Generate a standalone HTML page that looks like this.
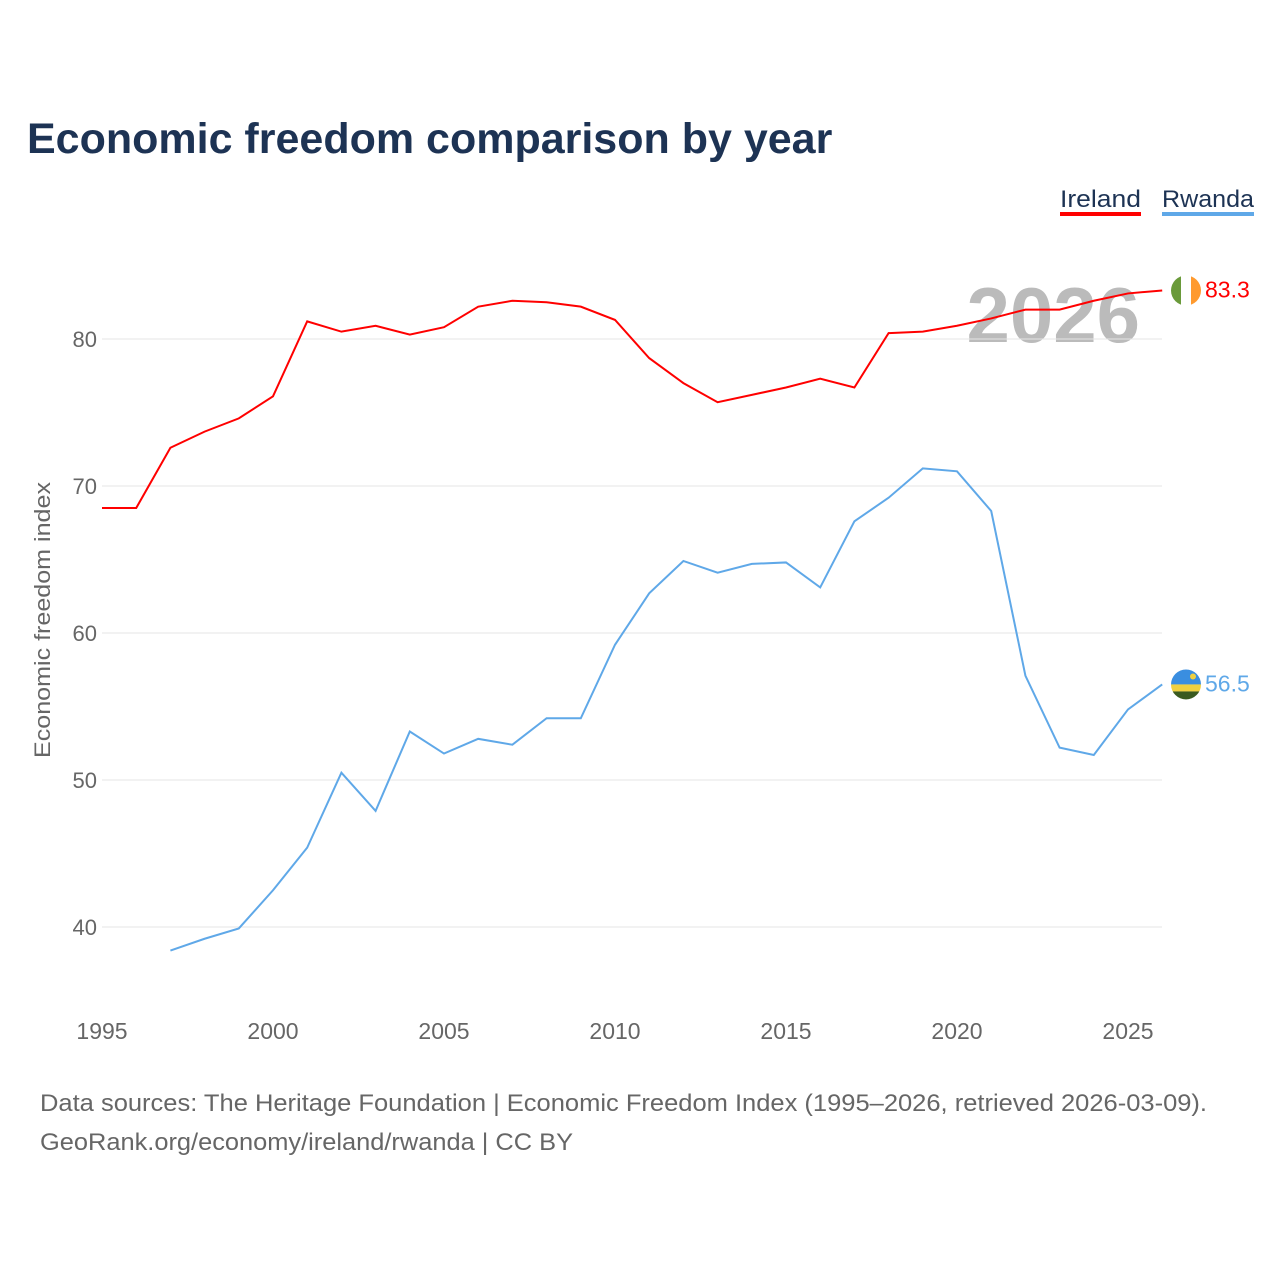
<!DOCTYPE html>
<html><head><meta charset="utf-8"><style>
body{margin:0;background:#fff;font-family:"Liberation Sans",sans-serif}
svg text{font-family:"Liberation Sans",sans-serif}
</style></head><body>
<svg width="1280" height="1280" id="c">
<text x="27" y="153" font-size="43" font-weight="bold" fill="#1d3354">Economic freedom comparison by year</text>
<g><text x="1060" y="207" font-size="24" fill="#1d3354" textLength="81" lengthAdjust="spacingAndGlyphs">Ireland</text><rect x="1060" y="212" width="81" height="4" fill="#ff0000"/></g>
<g><text x="1162" y="207" font-size="24" fill="#1d3354" textLength="92" lengthAdjust="spacingAndGlyphs">Rwanda</text><rect x="1162" y="212" width="92" height="4" fill="#5fa8e8"/></g>
<text x="1140" y="342" font-size="78" font-weight="bold" fill="#bbb" text-anchor="end">2026</text>
<text transform="translate(50,620) rotate(-90)" font-size="22" fill="#666" text-anchor="middle" textLength="276" lengthAdjust="spacingAndGlyphs">Economic freedom index</text>
<g id="grid"></g><g id="lines"></g>
<text x="40" y="1111" font-size="24" fill="#666" textLength="1167" lengthAdjust="spacingAndGlyphs">Data sources: The Heritage Foundation | Economic Freedom Index (1995–2026, retrieved 2026-03-09).</text>
<text x="40" y="1150" font-size="24" fill="#666" textLength="533" lengthAdjust="spacingAndGlyphs">GeoRank.org/economy/ireland/rwanda | CC BY</text>
</svg>
<script>
const years=[1995,1996,1997,1998,1999,2000,2001,2002,2003,2004,2005,2006,2007,2008,2009,2010,2011,2012,2013,2014,2015,2016,2017,2018,2019,2020,2021,2022,2023,2024,2025,2026];
const ireland=[68.5,68.5,72.6,73.7,74.6,76.1,81.2,80.5,80.9,80.3,80.8,82.2,82.6,82.5,82.2,81.3,78.7,77.0,75.7,76.2,76.7,77.3,76.7,80.4,80.5,80.9,81.4,82.0,82.0,82.6,83.1,83.3];
const rwanda=[null,null,38.4,39.2,39.9,42.5,45.4,50.5,47.9,53.3,51.8,52.8,52.4,54.2,54.2,59.2,62.7,64.9,64.1,64.7,64.8,63.1,67.6,69.2,71.2,71.0,68.3,57.1,52.2,51.7,54.8,56.5];
const yTicks=[40,50,60,70,80];
const xTicks=[1995,2000,2005,2010,2015,2020,2025];
const NS="http://www.w3.org/2000/svg";
const X=y=>102+(y-1995)*34.2, Y=v=>339-(v-80)*14.7;
const g=document.getElementById('grid'),L=document.getElementById('lines');
function mk(t,a,p){const e=document.createElementNS(NS,t);for(const k in a)e.setAttribute(k,a[k]);p.appendChild(e);return e;}
yTicks.forEach(v=>{
 const l=mk('line',{x1:102,x2:1162,y1:Y(v),y2:Y(v),stroke:'#e6e6e6'},g);
 
 
 const t=mk('text',{x:97,y:Y(v)+8,'font-size':22,fill:'#666','text-anchor':'end'},g);t.textContent=v;
 
 
});
xTicks.forEach(v=>{
 const t=mk('text',{x:X(v),y:1039,'font-size':23,fill:'#666','text-anchor':'middle'},g);t.textContent=v;
 
 
});
function series(vals,col,name){
 let d='';vals.forEach((v,i)=>{if(v==null)return;d+=(d?'L':'M')+X(years[i])+','+Y(v);});
 const p=mk('path',{d:d,fill:'none',stroke:col,'stroke-width':2},L);
 
 
 const last=vals[vals.length-1];
 const t=mk('text',{x:1205,y:Y(last)+7,'font-size':23,fill:col},L);t.textContent=last.toFixed(1);
 
 
 return Y(last);
}
const yi=series(ireland,'#ff0000','ireland');
const yr=series(rwanda,'#5fa8e8','rwanda');
const f1=mk('g',{},L);


mk('clipPath',{id:'ci'},f1).appendChild(mk('circle',{cx:1186,cy:yi,r:15},f1));
const gi=mk('g',{'clip-path':'url(#ci)'},f1);
mk('rect',{x:1171,y:yi-15,width:10,height:30,fill:'#6a9a3a'},gi);
mk('rect',{x:1181,y:yi-15,width:10,height:30,fill:'#fff'},gi);
mk('rect',{x:1191,y:yi-15,width:10,height:30,fill:'#ff9a2e'},gi);
const f2=mk('g',{},L);


mk('clipPath',{id:'cr'},f2).appendChild(mk('circle',{cx:1186,cy:yr,r:15},f2));
const gr=mk('g',{'clip-path':'url(#cr)'},f2);
mk('rect',{x:1171,y:yr-15,width:30,height:15,fill:'#3a8ee0'},gr);
mk('rect',{x:1171,y:yr,width:30,height:7,fill:'#f0d040'},gr);
mk('rect',{x:1171,y:yr+7,width:30,height:8,fill:'#3a5a20'},gr);
mk('circle',{cx:1193,cy:yr-8,r:3,fill:'#f0d040'},gr);
</script>
</body></html>
